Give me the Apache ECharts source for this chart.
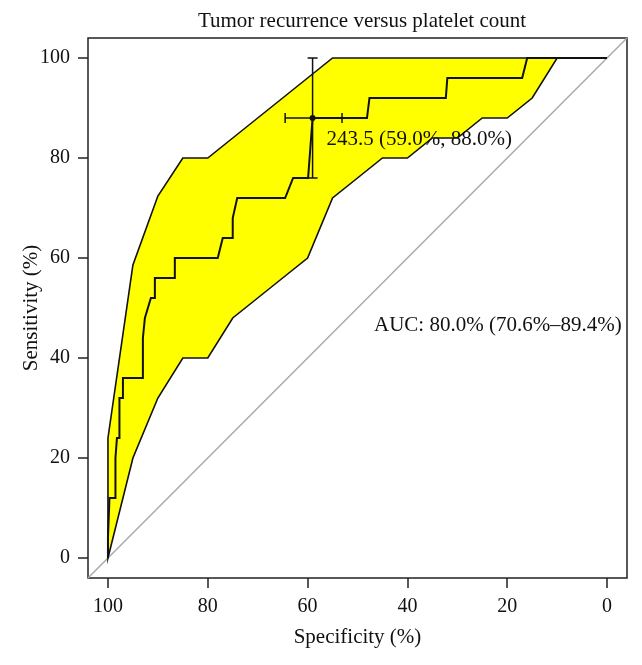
<!DOCTYPE html>
<html><head><meta charset="utf-8">
<script src="https://cdn.jsdelivr.net/npm/echarts@6/dist/echarts.min.js"></script>
<style>html,body{margin:0;padding:0;background:#fff}#c{width:642px;height:665px}</style>
</head><body><div id="c"></div>
<script>
// ---- data ----
const titleText = 'Tumor recurrence versus platelet count';
const xName = 'Specificity (%)';
const yName = 'Sensitivity (%)';
const tickValues = [0, 20, 40, 60, 80, 100];
const axisMin = -4, axisMax = 104;

// ROC curve (specificity %, sensitivity %)
const rocSpec = [100, 100, 99.7, 99.7, 98.5, 98.5, 98.2, 98.2, 97.7, 97.7,
                 97.0, 97.0, 93.0, 93.0, 92.6, 92.2, 91.4, 90.6, 90.6, 86.6,
                 86.6, 78.0, 77.0, 75.0, 75.0, 74.8, 74.1, 64.5, 62.9, 59.9,
                 59.0, 48.1, 47.6, 32.3, 32.0, 17.0, 16.0, 0];
const rocSens = [0, 4, 4, 12, 12, 20, 20, 24, 24, 32,
                 32, 36, 36, 44, 48, 48, 52, 52, 56, 56,
                 60, 60, 64, 64, 68, 68, 72, 72, 76, 76,
                 88, 88, 92, 92, 96, 96, 100, 100];

// Confidence band of sensitivity at fixed specificities
const bandSpec  = [100, 95, 90, 85, 80, 75, 70, 65, 60, 55, 50, 45, 40, 35, 30, 25, 20, 15, 10, 5, 0];
const bandUpper = [24, 58.6, 72.4, 80, 80, 84, 88, 92, 96, 100, 100, 100, 100, 100, 100, 100, 100, 100, 100, 100, 100];
const bandLower = [0, 20, 32, 40, 40, 48, 52, 56, 60, 72, 76, 80, 80, 84, 84, 88, 88, 92, 100, 100, 100];

// Best threshold with CIs
const thrLabel = '243.5';
const thrSpec = 59.0, thrSens = 88.0;
const thrSpecCI = [53.1, 64.5];
const thrSensCI = [76, 100];

// AUC annotation
const aucText = 'AUC: 80.0% (70.6%\u201389.4%)';
const aucPos = [46.7, 46.6];

// ---- chart ----
const FONT = 'Liberation Serif';
const TXT = '#111111';
const chart = echarts.init(document.getElementById('c'), null, {renderer: 'canvas'});

const rocData = rocSpec.map((s, i) => [s, rocSens[i]]);
const diagData = [[axisMax, axisMin], [axisMin, axisMax]];
const thrText = thrLabel + ' (' + thrSpec.toFixed(1) + '%, ' + thrSens.toFixed(1) + '%)';

const option = {
  animation: false,
  title: {
    text: titleText, left: 357, top: 6, textAlign: 'center',
    textStyle: {fontFamily: FONT, fontSize: 21, fontWeight: 'normal', color: TXT}
  },
  grid: {left: 88, right: 15, top: 38, bottom: 87, show: true,
         borderColor: '#222', borderWidth: 1.5, backgroundColor: 'transparent'},
  xAxis: {
    type: 'value', inverse: true, min: axisMin, max: axisMax,
    axisLine: {show: false, onZero: false}, splitLine: {show: false},
    axisTick: {show: true, customValues: tickValues, length: 10, lineStyle: {color: '#222', width: 1.5}},
    axisLabel: {customValues: tickValues, margin: 19, fontFamily: FONT, fontSize: 20, color: TXT},
    name: xName, nameLocation: 'middle', nameGap: 49, nameMoveOverlap: false,
    nameTextStyle: {fontFamily: FONT, fontSize: 21, color: TXT}
  },
  yAxis: {
    type: 'value', min: axisMin, max: axisMax,
    axisLine: {show: false, onZero: false}, splitLine: {show: false},
    axisTick: {show: true, customValues: tickValues, length: 10, lineStyle: {color: '#222', width: 1.5}},
    axisLabel: {customValues: tickValues, margin: 18, fontFamily: FONT, fontSize: 20, color: TXT},
    name: yName, nameLocation: 'middle', nameGap: 46, nameRotate: 90, nameMoveOverlap: false,
    nameTextStyle: {fontFamily: FONT, fontSize: 21, color: TXT}
  },
  series: [
    {
      type: 'line', data: diagData, showSymbol: false, silent: true, z: 1,
      lineStyle: {color: '#aaaaaa', width: 1.5}
    },
    {
      type: 'custom', z: 2, silent: true, clip: true,
      data: [0],
      renderItem: (params, api) => {
        const pts = [];
        bandSpec.forEach((s, i) => pts.push(api.coord([s, bandUpper[i]])));
        for (let i = bandSpec.length - 1; i >= 0; i--) pts.push(api.coord([bandSpec[i], bandLower[i]]));
        return {type: 'polygon', shape: {points: pts},
                style: {fill: '#ffff00', stroke: '#111', lineWidth: 1.6, lineJoin: 'miter'}};
      }
    },
    {
      type: 'line', data: rocData, showSymbol: false, silent: true, z: 3,
      lineStyle: {color: '#111', width: 2, join: 'miter'}
    },
    {
      type: 'custom', z: 4, silent: true,
      data: [[thrSpec, thrSens]],
      renderItem: (params, api) => {
        const c = api.coord([thrSpec, thrSens]);
        const l = api.coord([thrSpecCI[1], thrSens]);
        const r = api.coord([thrSpecCI[0], thrSens]);
        const b = api.coord([thrSpec, thrSensCI[0]]);
        const t = api.coord([thrSpec, thrSensCI[1]]);
        const cap = 5;
        const st = {stroke: '#111', lineWidth: 1.5};
        const ln = (x1, y1, x2, y2) => ({type: 'line', shape: {x1, y1, x2, y2}, style: st});
        return {type: 'group', children: [
          ln(l[0], l[1], r[0], r[1]),
          ln(l[0], l[1] - cap, l[0], l[1] + cap),
          ln(r[0], r[1] - cap, r[0], r[1] + cap),
          ln(b[0], b[1], t[0], t[1]),
          ln(b[0] - cap, b[1], b[0] + cap, b[1]),
          ln(t[0] - cap, t[1], t[0] + cap, t[1]),
          {type: 'circle', shape: {cx: c[0], cy: c[1], r: 3}, style: {fill: '#111'}}
        ]};
      }
    },
    {
      type: 'custom', z: 5, silent: true,
      data: [[thrSpec, thrSens]],
      renderItem: (params, api) => {
        const p = api.coord([thrSpec, thrSens]);
        const a = api.coord(aucPos);
        const ts = {fill: TXT, font: '21px "Liberation Serif"', textAlign: 'left', textVerticalAlign: 'middle'};
        return {type: 'group', children: [
          {type: 'text', x: p[0] + 14, y: p[1] + 21, style: Object.assign({text: thrText}, ts)},
          {type: 'text', x: a[0], y: a[1], style: Object.assign({text: aucText}, ts)}
        ]};
      }
    }
  ]
};
chart.setOption(option);
</script>
</body></html>
